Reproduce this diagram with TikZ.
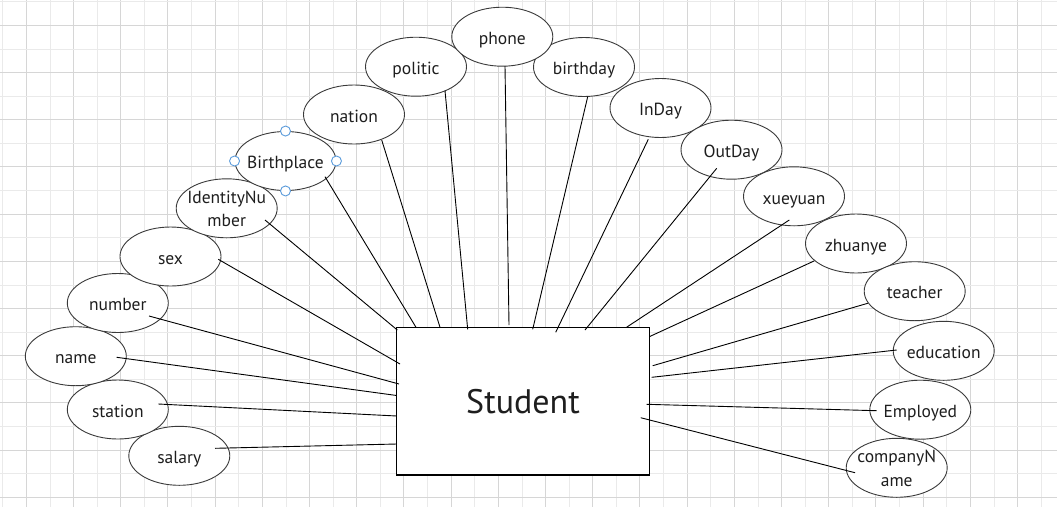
\documentclass[tikz,border=0pt]{standalone}
\usepackage{fontspec}
\setmainfont{PT Sans}
\usetikzlibrary{shapes.geometric}
\definecolor{gridminor}{HTML}{EAEAEA}
\definecolor{gridmajor}{HTML}{D6D6D6}
\definecolor{edgegrey}{HTML}{3A3A3A}
\definecolor{handleblue}{HTML}{5A9BDB}
\definecolor{txt}{HTML}{1E1E1E}
\begin{document}
\begin{tikzpicture}[x=1pt,y=-1pt,
  attr/.style={ellipse, draw=edgegrey, fill=white, line width=0.9pt,
    minimum width=101pt, minimum height=59pt, inner xsep=-6pt, inner ysep=-4pt,
    text=txt, font=\fontsize{17.5}{23.4}\selectfont, align=center,
    text height=15.5pt, text depth=0pt},
  attrtwo/.style={attr, text height=36.8pt, text depth=0pt},
  entity/.style={rectangle, draw=black, fill=white, line width=1.2pt,
    minimum width=252.6pt, minimum height=147.7pt,
    font=\fontsize{34}{40}\selectfont, text=txt},
  link/.style={draw=black, line width=0.9pt},
  handle/.style={circle, draw=handleblue, fill=white, line width=0.9pt,
    minimum size=10pt, inner sep=0pt},
  minorline/.style={draw=gridminor, line width=0.8pt},
  majorline/.style={draw=gridmajor, line width=0.9pt}]
\useasboundingbox (0,0) rectangle (1057,507);
\fill[white] (0,0) rectangle (1057,507);
% grid
\foreach \i in {0,...,44} {
  \pgfmathsetmacro{\gx}{2.7+23.6*\i}
  \ifodd\i
    \draw[majorline] (\gx,0) -- (\gx,507);
  \else
    \draw[minorline] (\gx,0) -- (\gx,507);
  \fi
}
\foreach \j in {0,...,21} {
  \pgfmathsetmacro{\gy}{1.7+23.6*\j}
  \ifodd\j
    \draw[majorline] (0,\gy) -- (1057,\gy);
  \else
    \draw[minorline] (0,\gy) -- (1057,\gy);
  \fi
}
% attributes
\node[attr] (salary) at (179.3,455.8) {salary};
\node[attr] (station) at (117.8,409.5) {station};
\node[attr] (name) at (75.8,356.2) {name};
\node[attr] (number) at (117.8,303) {number};
\node[attr] (sex) at (170.5,256.5) {sex};
\node[attrtwo] (ident) at (226.7,208.3) {IdentityNu\\mber};
\node[attr] (birth) at (285.5,161) {Birthplace};
\node[attr] (nation) at (354,114.5) {nation};
\node[attr] (politic) at (416,66.7) {politic};
\node[attr] (birthday) at (584,67) {birthday};
\node[attr] (phone) at (502.3,36.7) {phone};
\node[attr] (inday) at (660.5,108) {InDay};
\node[attr] (outday) at (731.5,149.7) {OutDay};
\node[attr] (xueyuan) at (794,196.3) {xueyuan};
\node[attr] (zhuanye) at (856,243.5) {zhuanye};
\node[attr] (teacher) at (914.7,291.2) {teacher};
\node[attr] (education) at (943.7,350.8) {education};
\node[attr] (employed) at (920.3,409.7) {Employed};
\node[attrtwo] (company) at (896.7,467.8) {companyN\\ame};
% entity
\node[entity] (student) at (523,401.15) {Student};
% connector end points
\coordinate (salary-s) at (215,448.3);      \coordinate (salary-e) at (396.7,444);
\coordinate (station-s) at (158.3,404);     \coordinate (station-e) at (396.7,416);
\coordinate (name-s) at (116.7,357.3);      \coordinate (name-e) at (396.7,395.5);
\coordinate (number-s) at (149,316);        \coordinate (number-e) at (399,384);
\coordinate (sex-s) at (218.3,259.3);       \coordinate (sex-e) at (400,364);
\coordinate (ident-s) at (265,220);         \coordinate (ident-e) at (397.3,330);
\coordinate (birth-s) at (325,176.7);       \coordinate (birth-e) at (416,327.3);
\coordinate (nation-s) at (381.7,140);      \coordinate (nation-e) at (440,327.3);
\coordinate (politic-s) at (445,90.7);      \coordinate (politic-e) at (467.7,329.3);
\coordinate (phone-s) at (505,66);          \coordinate (phone-e) at (509,325);
\coordinate (birthday-s) at (587.7,96.7);   \coordinate (birthday-e) at (532.7,329.3);
\coordinate (inday-s) at (648.3,139.3);     \coordinate (inday-e) at (555.7,332.3);
\coordinate (outday-s) at (716.7,168.3);    \coordinate (outday-e) at (585,330);
\coordinate (xueyuan-s) at (789.3,220);     \coordinate (xueyuan-e) at (626.5,327.3);
\coordinate (zhuanye-s) at (814,261);       \coordinate (zhuanye-e) at (649.3,336.7);
\coordinate (teacher-s) at (867.7,303.3);   \coordinate (teacher-e) at (652.7,365.7);
\coordinate (education-s) at (896.7,350);   \coordinate (education-e) at (651.7,377.3);
\coordinate (employed-s) at (876.7,410.7);  \coordinate (employed-e) at (646.7,404.3);
\coordinate (company-s) at (855,472.7);     \coordinate (company-e) at (640.7,417.7);
% connectors
\foreach \a in {salary,station,name,number,sex,ident,birth,nation,politic,phone,birthday,inday,outday,xueyuan,zhuanye,teacher,education,employed,company}
  \draw[link] (\a-s) -- (\a-e);
% selection handles on Birthplace
\node[handle] (h-n) at (birth.north) {};
\node[handle] (h-s) at (birth.south) {};
\node[handle] (h-w) at (birth.west) {};
\node[handle] (h-e) at (birth.east) {};
\end{tikzpicture}
\end{document}
